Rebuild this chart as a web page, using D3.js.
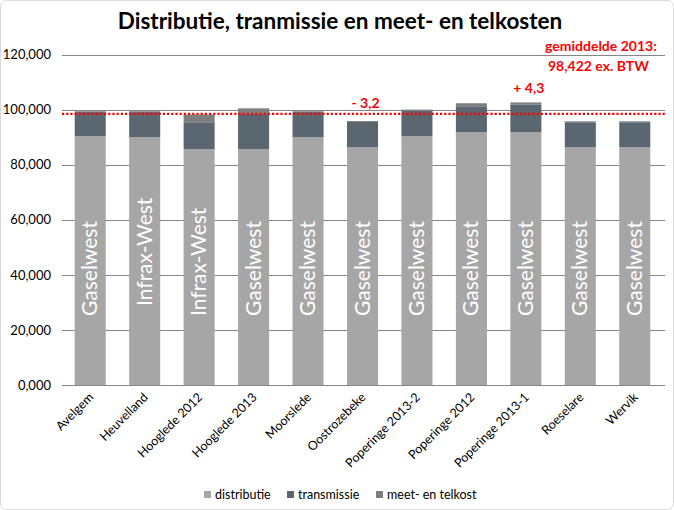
<!DOCTYPE html>
<html><head><meta charset="utf-8">
<script src="https://cdn.jsdelivr.net/npm/d3@7"></script>
<style>body{margin:0;background:#fff;} svg{display:block;font-family:Lato,"Open Sans",sans-serif;}</style>
</head><body><svg id="c" width="674" height="510"></svg>
<script>
const categories = ["Avelgem","Heuvelland","Hooglede 2012","Hooglede 2013","Moorslede","Oostrozebeke","Poperinge 2013-2","Poperinge 2012","Poperinge 2013-1","Roeselare","Wervik"];
const distributie = [90.30, 89.95, 85.60, 85.60, 89.95, 86.30, 90.30, 91.75, 91.75, 86.30, 86.30];
const transmissie = [8.80, 9.15, 9.80, 12.85, 9.15, 9.20, 9.20, 9.45, 10.15, 9.10, 9.10];
const meetTelkost = [0.30, 0.30, 2.80, 2.00, 0.30, 0.35, 0.50, 1.10, 0.70, 0.35, 0.35];
const operators = ["Gaselwest","Infrax-West","Infrax-West","Gaselwest","Gaselwest","Gaselwest","Gaselwest","Gaselwest","Gaselwest","Gaselwest","Gaselwest"];
const seriesNames = ["distributie","transmissie","meet- en telkost"];
const yTicks = [0,20,40,60,80,100,120];
const average = 98.422;
const notes = [{cat:"Oostrozebeke", text:"- 3,2"},{cat:"Poperinge 2013-1", text:"+ 4,3"}];
const title = "Distributie, tranmissie en meet- en telkosten";
const avgLabel = ["gemiddelde 2013:", "98,422 ex. BTW"];

const colors = ["#a6a6a6","#5b6770","#7f7f7f"];
const svg = d3.select("#c");
const loc = d3.formatLocale({decimal:",", thousands:".", grouping:[3], currency:["€",""]});
const fmt = loc.format(".3f");

// chart border
svg.append("rect").attr("x",0.5).attr("y",0.5).attr("width",673).attr("height",509).attr("rx",6)
  .attr("fill","#fff").attr("stroke","#d9d9d9");

const x = d3.scaleBand().domain(categories).range([63,662]).paddingInner(0.43).paddingOuter(0.215);
const y = d3.scaleLinear().domain([0,120]).range([385,54.5]);

// gridlines
svg.append("g").selectAll("line").data(yTicks).join("line")
  .attr("x1",62).attr("x2",665).attr("y1",d=>Math.round(y(d))+0.5).attr("y2",d=>Math.round(y(d))+0.5)
  .attr("stroke","#868686").attr("stroke-width",1);

// y axis labels
const yAxis = d3.axisLeft(y).tickValues(yTicks).tickFormat(fmt).tickSize(0).tickPadding(0);
const ya = svg.append("g").attr("transform","translate(51,0)").call(yAxis);
ya.select(".domain").remove();
ya.selectAll("text").attr("font-size",13).attr("fill","#000").attr("font-family","Lato, sans-serif");

// stacked bars
const rows = categories.map((c,i)=>({cat:c, distributie:distributie[i], transmissie:transmissie[i], "meet- en telkost":meetTelkost[i]}));
const stack = d3.stack().keys(seriesNames)(rows);
svg.append("g").selectAll("g").data(stack).join("g").attr("fill",(d,i)=>colors[i])
  .selectAll("rect").data(d=>d).join("rect")
  .attr("x",d=>x(d.data.cat)).attr("width",x.bandwidth())
  .attr("y",d=>y(d[1])).attr("height",d=>y(d[0])-y(d[1]));

// x axis line
svg.append("line").attr("x1",62).attr("x2",665).attr("y1",385.5).attr("y2",385.5).attr("stroke","#868686");

// operator labels (vertical, white)
svg.append("g").selectAll("text").data(categories).join("text")
  .attr("transform",(d,i)=>`translate(${x(d)+x.bandwidth()/2+7},${i===1?306:316}) rotate(-90)`)
  .attr("text-anchor","start").attr("fill","#fff").attr("font-size",21).attr("font-family","Lato, sans-serif")
  .text((d,i)=>operators[i]);

// average dotted line
svg.append("line").attr("x1",62).attr("x2",665).attr("y1",y(average)).attr("y2",y(average))
  .attr("stroke","#ff0000").attr("stroke-width",2.2).attr("stroke-dasharray","2.2,2");

// x labels
svg.append("g").selectAll("text").data(categories).join("text")
  .attr("transform",d=>`translate(${x(d)+x.bandwidth()/2+4},${398}) rotate(-45)`)
  .attr("text-anchor","end").attr("font-size",12.5).attr("fill","#000").text(d=>d);

// title
svg.append("text").attr("x",340).attr("y",29).attr("text-anchor","middle").attr("font-size",22.5)
  .attr("font-weight","bold").attr("fill","#000").text(title);

// average label
svg.selectAll(".avg").data(avgLabel).join("text").attr("class","avg")
  .attr("x",(d,i)=>i?548:545).attr("y",(d,i)=>51+i*20).attr("font-size",14).attr("font-weight","bold")
  .attr("fill","#ff0000").text(d=>d);

// notes
svg.selectAll(".note").data(notes).join("text").attr("class","note")
  .attr("x",d=>x(d.cat)+x.bandwidth()/2+3)
  .attr("y",d=>{const i=categories.indexOf(d.cat);return y(distributie[i]+transmissie[i]+meetTelkost[i])-(d.text[0]==="+"?9:13);})
  .attr("text-anchor","middle").attr("font-size",14).attr("font-weight","bold").attr("fill","#ff0000").text(d=>d.text);

// legend
const lgX = [204,287,376];
const lg = svg.append("g").selectAll("g").data(seriesNames).join("g")
  .attr("transform",(d,i)=>`translate(${lgX[i]},491)`);
lg.append("rect").attr("width",7).attr("height",7).attr("fill",(d,i)=>colors[i]);
lg.append("text").attr("x",11).attr("y",7.5).attr("font-size",12.5).attr("fill","#000").text(d=>d);
</script></body></html>
